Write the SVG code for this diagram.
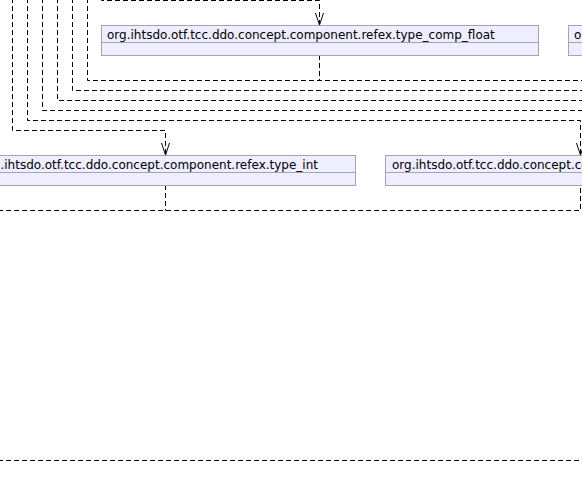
<svg xmlns="http://www.w3.org/2000/svg" width="582" height="501" viewBox="0 0 582 501">
<style>
.box{fill:#EEEEFF;stroke:#A3A3B8;stroke-width:1}
.div{stroke:#A3A3B8;stroke-width:1}
.lbl{font-family:"DejaVu Sans",sans-serif;font-size:12px;fill:#000}
.edge{fill:none;stroke:#000;stroke-width:1;stroke-dasharray:5,3}
.head{fill:none;stroke:#000;stroke-width:1}
</style>
<rect width="582" height="501" fill="#fff"/>
<g id="connectors">
<path class="edge" d="M101.5,-10 V0.5 H319.5 V25"/>
<path class="edge" d="M87.5,-10 V80.5 H590"/>
<path class="edge" d="M319.5,55 V80.5"/>
<path class="edge" d="M72.5,-10 V90.5 H590"/>
<path class="edge" d="M57.5,-10 V100.5 H590"/>
<path class="edge" d="M42.5,-10 V110.5 H590"/>
<path class="edge" d="M27.5,-10 V120.5 H580.5 V155"/>
<path class="edge" d="M12.5,-10 V130.5 H165.5 V155"/>
<path class="edge" d="M165.5,185 V210.5"/>
<path class="edge" d="M-10,210.5 H580.5 V185"/>
<path class="edge" d="M-10,460.5 H590"/>
<path class="head" d="M315.5,13 L319.5,25 L323.5,13"/>
<path class="head" d="M161.5,143 L165.5,155 L169.5,143"/>
<path class="head" d="M576.5,143 L580.5,155 L584.5,143"/>
</g>
<g id="type_comp_float">
<rect class="box" x="101.5" y="25.5" width="437" height="30"/>
<line class="div" x1="101.5" y1="42.5" x2="538.5" y2="42.5"/>
<text class="lbl" x="107" y="38.5">org.ihtsdo.otf.tcc.ddo.concept.component.refex.type_comp_float</text>
</g>
<g id="top_right">
<rect class="box" x="568.5" y="25.5" width="200" height="30"/>
<line class="div" x1="568.5" y1="42.5" x2="768.5" y2="42.5"/>
<text class="lbl" x="574" y="38.5">org.ihtsdo.otf.tcc.ddo.concept.component.refex</text>
</g>
<g id="type_int">
<rect class="box" x="-30.5" y="155.5" width="386" height="30"/>
<line class="div" x1="-30.5" y1="172.5" x2="355.5" y2="172.5"/>
<text class="lbl" x="318" y="168.5" text-anchor="end">org.ihtsdo.otf.tcc.ddo.concept.component.refex.type_int</text>
</g>
<g id="right_box">
<rect class="box" x="385.5" y="155.5" width="400" height="30"/>
<line class="div" x1="385.5" y1="172.5" x2="785.5" y2="172.5"/>
<text class="lbl" x="392" y="168.5">org.ihtsdo.otf.tcc.ddo.concept.component.refex</text>
</g>
</svg>
